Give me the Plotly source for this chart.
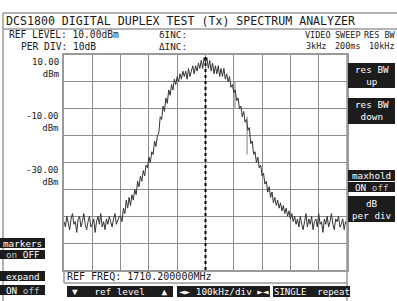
import plotly.graph_objects as go

W, H = 397, 301

# ---------------- data ----------------
LEVEL_DBM = [
    # -500 .. -305 kHz : noise floor
    -52, -54, -50, -53, -55, -51, -49, -53, -52, -56,
    -51, -50, -54, -52, -49, -53, -55, -52, -50, -54,
    -53, -51, -56, -52, -50, -53, -49, -54, -52, -55,
    -51, -53, -50, -52, -54, -51, -49, -53, -51, -50,
    # -300 .. -105 kHz : rising edge
    -50, -52, -47, -49, -44, -47, -43, -46, -42, -44,
    -40, -42, -37, -39, -35, -37, -33, -35, -31, -32,
    -28, -30, -26, -27, -22, -24, -20, -19, -13, -14,
    -9, -11, -6, -8, -3, -5, -1, -3, 1, -1,
    # -100 .. 95 kHz : top of the channel
    2, 0, 3, 1, 4, 2, 4, 1, 5, 2,
    4, 6, 3, 6, 4, 7, 5, 8, 5, 9,
    7, 9, 5, 8, 4, 7, 3, 6, 3, 6,
    2, 5, 2, 5, 1, 3, 0, 2, -2, -1,
    # 100 .. 320 kHz : falling edge
    -4, -3, -7, -6, -10, -9, -13, -11, -15, -14,
    -18, -17, -23, -22, -27, -26, -30, -28, -32, -31,
    -35, -34, -38, -37, -41, -39, -43, -41, -45, -43,
    -46, -44, -47, -45, -48, -46, -49, -47, -50, -48,
    -51, -49, -52, -50, -53,
    # 325 .. 500 kHz : noise floor
    -51, -54, -50, -53, -55, -52, -49, -54, -51, -53,
    -50, -55, -52, -51, -54, -49, -53, -52, -56, -51,
    -53, -50, -54, -52, -49, -53, -55, -51, -52, -50,
    -54, -53, -51, -55, -52, -53,
]
FREQ_START_KHZ = -500
FREQ_STEP_KHZ = 5
FREQ_KHZ = [FREQ_START_KHZ + FREQ_STEP_KHZ * i for i in range(len(LEVEL_DBM))]

# light-grey hold spikes
SPIKE_KHZ = [104, 104, None, 147, 147]
SPIKE_DBM = [0, -10, None, -13, -27]

X_RANGE_KHZ = [-500, 500]
X_DIV_KHZ = 100
Y_RANGE_DBM = [-70, 10]
Y_DIV_DB = 10
CENTER_KHZ = 0

Y_LABEL_VALUES = [10, -10, -30]
Y_LABEL_TEXTS = ["10.00", "-10.00", "-30.00"]

FONT = "DejaVu Sans Mono"
GRID = "#8c8c8c"
FRAME = "#9a9a9a"
BTN = "#1c1c1c"
DIM = "#c4c4c4"


def px(x, y):
    return x / W, 1 - y / H


fig = go.Figure()
fig.add_trace(go.Scatter(x=SPIKE_KHZ, y=SPIKE_DBM, mode="lines",
                         line=dict(color="#a8a8a8", width=1.5),
                         hoverinfo="skip", showlegend=False))
fig.add_trace(go.Scatter(x=FREQ_KHZ, y=LEVEL_DBM, mode="lines",
                         line=dict(color="#333333", width=1),
                         hoverinfo="skip", showlegend=False))

PL, PR, PT, PB = 64, 347, 55, 270
x0d, _ = px(PL, 0)
x1d, _ = px(PR, 0)
_, y1d = px(0, PT)
_, y0d = px(0, PB)

fig.update_layout(
    width=W, height=H,
    margin=dict(l=0, r=0, t=0, b=0),
    paper_bgcolor="white", plot_bgcolor="white",
    font=dict(family=FONT, size=9, color="#1a1a1a"),
    xaxis=dict(domain=[x0d, x1d], range=X_RANGE_KHZ, dtick=X_DIV_KHZ,
               tick0=X_RANGE_KHZ[0], showgrid=True, gridcolor=GRID,
               gridwidth=1, zeroline=False, showticklabels=False, ticks="",
               showline=True, mirror=True, linecolor=FRAME, linewidth=1.5),
    yaxis=dict(domain=[y0d, y1d], range=Y_RANGE_DBM, dtick=Y_DIV_DB,
               tick0=Y_RANGE_DBM[0], showgrid=True, gridcolor=GRID,
               gridwidth=1, zeroline=False, showticklabels=False, ticks="",
               showline=True, mirror=True, linecolor=FRAME, linewidth=1.5),
)

shapes = []
annos = []


def hline(xa, xb, y, color=FRAME, w=1.5):
    a = px(xa, y)
    b = px(xb, y)
    shapes.append(dict(type="line", xref="paper", yref="paper", x0=a[0], y0=a[1],
                       x1=b[0], y1=b[1], line=dict(color=color, width=w)))


def vline(x, ya, yb, color=FRAME, w=1.5):
    a = px(x, ya)
    b = px(x, yb)
    shapes.append(dict(type="line", xref="paper", yref="paper", x0=a[0], y0=a[1],
                       x1=b[0], y1=b[1], line=dict(color=color, width=w)))


def text(x, y, s, size=9.3, anchor="left", color="#1a1a1a"):
    p = px(x, y)
    annos.append(dict(x=p[0], y=p[1], xref="paper", yref="paper", text=s,
                      showarrow=False, xanchor=anchor, yanchor="middle",
                      font=dict(family=FONT, size=size, color=color),
                      borderpad=0))


def button(xa, ya, xb, yb, s, size=9.3):
    a = px(xa, ya)
    b = px(xb, yb)
    shapes.append(dict(type="rect", xref="paper", yref="paper", x0=a[0], y0=b[1],
                       x1=b[0], y1=a[1], fillcolor=BTN, line=dict(width=0),
                       layer="above"))
    c = px((xa + xb) / 2, (ya + yb) / 2)
    annos.append(dict(x=c[0], y=c[1], xref="paper", yref="paper", text=s,
                      showarrow=False, xanchor="center", yanchor="middle",
                      align="center",
                      font=dict(family=FONT, size=size, color="white"),
                      borderpad=0))


# frame lines
hline(3, 397, 13)
vline(3, 13, 301)
hline(3, 397, 29)
vline(PR, PT, 301)
vline(PL, PB, 283)
hline(PL, PR, 283)

# centre (reference frequency) dotted marker
shapes.append(dict(type="line", xref="x", yref="y", x0=CENTER_KHZ, x1=CENTER_KHZ,
                   y0=Y_RANGE_DBM[0], y1=Y_RANGE_DBM[1],
                   line=dict(color="black", width=2, dash="dot")))

# title and header
text(5, 21, "DCS1800 DIGITAL DUPLEX TEST (Tx) SPECTRUM ANALYZER", size=11.6)
text(8, 35, "REF LEVEL: 10.00dBm", size=9.6)
text(20, 46, "PER DIV: 10dB", size=9.6)
text(158, 35, "δINC:", size=9.3)
text(158, 46, "ΔINC:", size=9.3)
text(304, 35, "VIDEO", size=8.5)
text(334, 35, "SWEEP", size=8.5)
text(397, 35, "RES BW", size=8.5, anchor="right")
text(305, 46, "3kHz", size=8.5)
text(334, 46, "200ms", size=8.5)
text(396, 46, "10kHz", size=8.5, anchor="right")

# y labels
for v, lab in zip(Y_LABEL_VALUES, Y_LABEL_TEXTS):
    annos.append(dict(x=px(61, 0)[0], y=v, xref="paper", yref="y",
                      text=lab + "<br>dBm", showarrow=False, xanchor="right",
                      yanchor="top", align="right", borderpad=1,
                      font=dict(family=FONT, size=9, color="#1a1a1a")))

# bottom ref freq
text(66, 276, "REF FREQ: 1710.200000MHz", size=10)

# right-hand soft keys
button(348, 63, 395, 88, "res BW<br>up")
button(348, 98, 395, 124, "res BW<br>down")
button(348, 170, 395, 181, "maxhold")
button(348, 182, 395, 192, "ON <span style='color:%s'>off</span>" % DIM)
button(348, 196, 395, 222, "dB<br>per div")

# left soft keys
button(0, 238, 45, 248, "markers")
button(0, 250, 45, 259, "<span style='color:%s'>on</span> OFF" % DIM)
button(0, 271, 45, 281, "expand")
button(0, 285, 45, 295, "ON <span style='color:%s'>off</span>" % DIM)

# bottom soft keys
button(67, 286, 173, 297, "▼   ref level   ▲")
button(177, 286, 270, 297, "◄► 100kHz/div ►◄")
button(273, 286, 350, 297, "SINGLE  repeat", size=9)

fig.update_layout(shapes=shapes, annotations=annos)
fig.write_html("out.html", config={"displayModeBar": False},
               post_script="document.body.style.margin='0';")
